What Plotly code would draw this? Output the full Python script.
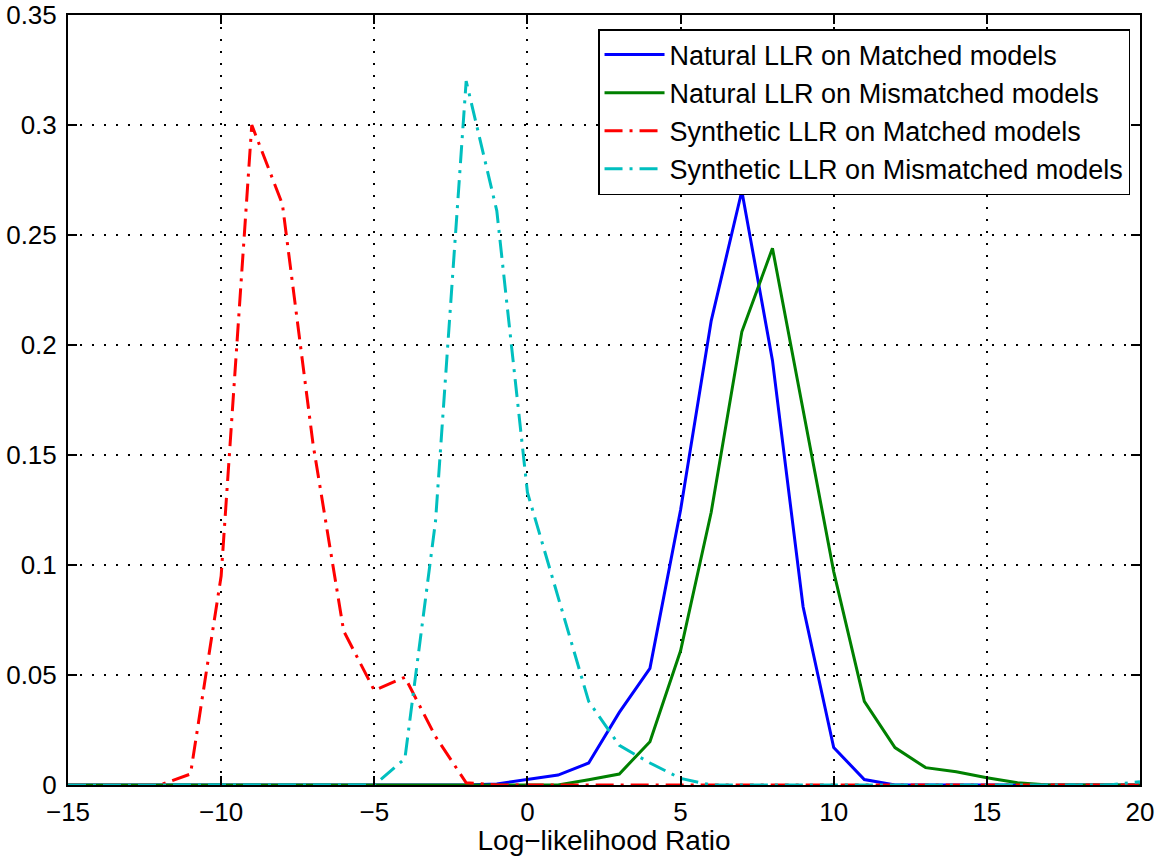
import plotly.graph_objects as go

x_vals = list(range(-15, 21))

natural_matched = [0, 0, 0, 0, 0, 0, 0, 0, 0, 0, 0, 0, 0, 0, 0.0005, 0.0025,
                   0.0045, 0.010, 0.033, 0.053, 0.125, 0.211, 0.270, 0.193, 0.081, 0.017,
                   0.0025, 0, 0, 0, 0, 0, 0, 0, 0, 0]
natural_mismatched = [0, 0, 0, 0, 0, 0, 0, 0, 0, 0, 0, 0, 0, 0, 0, 0,
                      0, 0.0024, 0.005, 0.0197, 0.061, 0.124, 0.206, 0.244, 0.171, 0.097,
                      0.038, 0.017, 0.0079, 0.006, 0.0033, 0.001, 0, 0, 0, 0]
synthetic_matched = [0, 0, 0, 0, 0.005, 0.095, 0.300, 0.264, 0.155, 0.070, 0.043, 0.049, 0.022,
                     0.001, 0, 0, 0, 0, 0, 0, 0, 0, 0, 0, 0, 0, 0, 0, 0, 0, 0, 0, 0, 0, 0, 0]
synthetic_mismatched = [0, 0, 0, 0, 0, 0, 0, 0, 0, 0, 0, 0.012, 0.120, 0.320, 0.261, 0.133,
                        0.085, 0.038, 0.018, 0.010, 0.003, 0, 0, 0, 0, 0, 0, 0, 0, 0, 0, 0,
                        0, 0, 0, 0.0015]

series_names = ["Natural LLR on Matched models", "Natural LLR on Mismatched models",
                "Synthetic LLR on Matched models", "Synthetic LLR on Mismatched models"]

x_ticks = [-15, -10, -5, 0, 5, 10, 15, 20]
y_ticks = [0, 0.05, 0.1, 0.15, 0.2, 0.25, 0.3, 0.35]
y_tick_text = ["0", "0.05", "0.1", "0.15", "0.2", "0.25", "0.3", "0.35"]

FONT = "Liberation Sans, Arial, Helvetica, sans-serif"
FS = 26

fig = go.Figure()
DASHDOT = "18px,7px,3px,7px"
styles = [("#0000FF", "solid"), ("#008000", "solid"), ("#FF0000", DASHDOT), ("#00BFBF", DASHDOT)]
for name, ys, (col, dash) in zip(series_names,
                                 [natural_matched, natural_mismatched, synthetic_matched, synthetic_mismatched],
                                 styles):
    fig.add_trace(go.Scatter(x=x_vals, y=ys, mode="lines", name=name,
                             line=dict(color=col, width=3, dash=dash)))

axis_common = dict(
    showline=True, linecolor="black", linewidth=2, mirror="ticks",
    ticks="inside", ticklen=9, tickcolor="black", tickwidth=2,
    showgrid=True, gridcolor="black", gridwidth=1.5, griddash="2px,10px",
    zeroline=False, tickfont=dict(family=FONT, size=FS, color="black"),
    automargin=False, ticklabeloverflow="allow",
)

fig.update_xaxes(range=[-15, 20], tickvals=x_ticks, ticklabelstandoff=3,
                 title=dict(text="Log\u2212likelihood Ratio", font=dict(family=FONT, size=28, color="black"), standoff=0),
                 **axis_common)
fig.update_yaxes(range=[0, 0.35], tickvals=y_ticks, ticktext=y_tick_text, ticklabelstandoff=4, **axis_common)

fig.update_layout(
    width=1170, height=856,
    margin=dict(l=68, r=30, t=15, b=71),
    paper_bgcolor="white", plot_bgcolor="white",
    font=dict(family=FONT, size=FS, color="black"),
    showlegend=True,
    legend=dict(x=0.9907, y=0.9818, xanchor="right", yanchor="top",
                bgcolor="white", bordercolor="black", borderwidth=1.5,
                font=dict(family=FONT, size=27, color="black"),
                tracegroupgap=0, itemwidth=60),
)

fig.write_html("out.html", config={"displayModeBar": False},
               post_script="document.body.style.margin='0';document.body.style.overflow='hidden';")
